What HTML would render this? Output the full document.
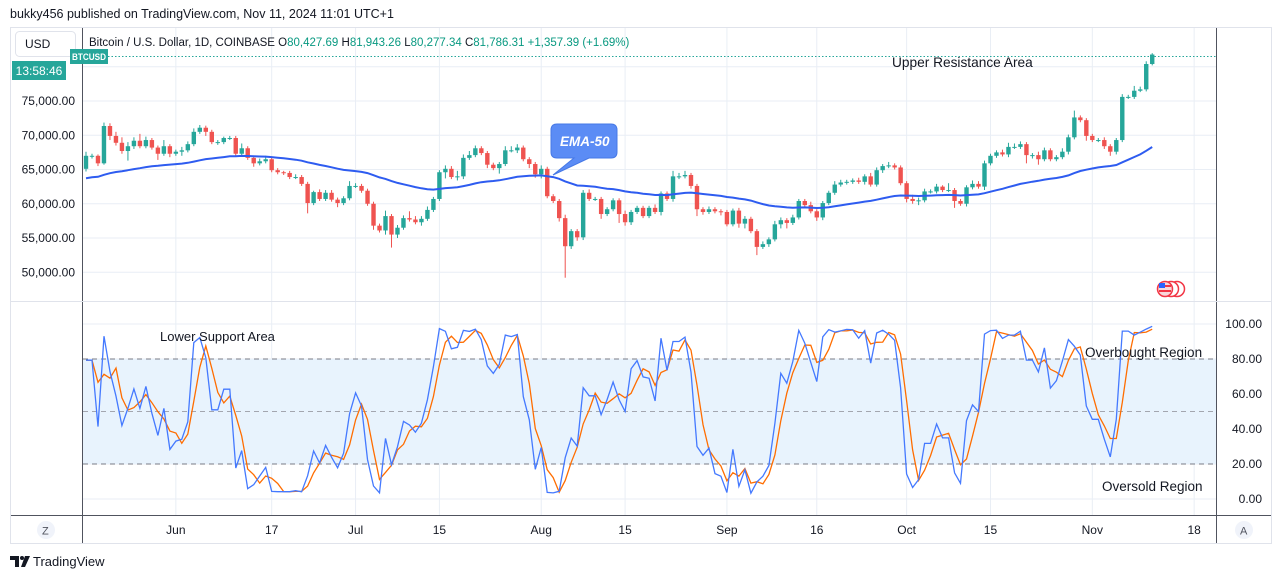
<!DOCTYPE html>
<html><head><meta charset="utf-8">
<style>
html,body{margin:0;padding:0;background:#fff;width:1281px;height:579px;overflow:hidden;font-family:"Liberation Sans",sans-serif;}
#wrap{position:relative;width:1281px;height:579px;}
svg{position:absolute;left:0;top:0;}
</style></head>
<body>
<div id="wrap">
<svg id="chart" width="1281" height="579" viewBox="0 0 1281 579">
  <text x="10" y="18" font-size="12.5" fill="#131722">bukky456 published on TradingView.com, Nov 11, 2024 11:01 UTC+1</text>
  <rect x="10.5" y="27.5" width="1261" height="516" fill="none" stroke="#e0e3eb"/>
  <g id="grid"></g>
  <rect x="82" y="359" width="1135" height="105" fill="#e8f3fd"/>
  <g id="bands"></g>
  <g id="candles"></g>
  <path id="ema" fill="none" stroke="#2e5cf0" stroke-width="2"/>
  <path id="stochD" fill="none" stroke="#ff6d00" stroke-width="1.3"/>
  <path id="stochK" fill="none" stroke="#4479ff" stroke-width="1.3"/>
  <line x1="108" y1="56.5" x2="1216" y2="56.5" stroke="#26a69a" stroke-dasharray="1.5,2"/>
  <line x1="82.5" y1="28" x2="82.5" y2="543" stroke="#50535e"/>
  <line x1="1216.5" y1="28" x2="1216.5" y2="543" stroke="#50535e"/>
  <line x1="11" y1="301.5" x2="1271" y2="301.5" stroke="#e0e3eb"/>
  <line x1="11" y1="515.5" x2="1271" y2="515.5" stroke="#50535e"/>
  <g id="ylabels" font-size="12" fill="#131722"></g>
  <g id="slabels" font-size="12" fill="#131722"></g>
  <g id="xlabels" font-size="12" fill="#131722"></g>
  <rect x="15.5" y="31.5" width="60" height="25" rx="4" fill="#fff" stroke="#e0e3eb"/>
  <text x="25" y="48" font-size="12" fill="#131722">USD</text>
  <rect x="12" y="61" width="54" height="19" fill="#26a69a"/>
  <text x="39" y="75" font-size="12" fill="#fff" text-anchor="middle">13:58:46</text>
  <rect x="70" y="49" width="38" height="15" fill="#26a69a"/>
  <text x="89" y="60" font-size="9.5" font-weight="bold" fill="#fff" text-anchor="middle" textLength="34" lengthAdjust="spacingAndGlyphs">BTCUSD</text>
  <text x="89" y="46" font-size="11.5" fill="#131722">Bitcoin / U.S. Dollar, 1D, COINBASE  <tspan fill="#131722">O</tspan><tspan fill="#089981">80,427.69</tspan> <tspan fill="#131722">H</tspan><tspan fill="#089981">81,943.26</tspan> <tspan fill="#131722">L</tspan><tspan fill="#089981">80,277.34</tspan> <tspan fill="#131722">C</tspan><tspan fill="#089981">81,786.31</tspan> <tspan fill="#089981">+1,357.39 (+1.69%)</tspan></text>
  <text x="892" y="67" font-size="13.7" fill="#131722">Upper Resistance Area</text>
  <text x="160" y="341" font-size="13" fill="#131722">Lower Support Area</text>
  <text x="1085" y="357" font-size="13.5" fill="#131722">Overbought Region</text>
  <text x="1102" y="491" font-size="13.5" fill="#131722">Oversold Region</text>
  <g>
    <path d="M557,124 H611 Q617,124 617,130 V152 Q617,158 611,158 H589 L553,175 L574,158 H557 Q551,158 551,152 V130 Q551,124 557,124 Z" fill="#5b8cf5" stroke="#4678e6"/>
    <text x="560" y="146" font-size="13.5" font-style="italic" font-weight="bold" fill="#fff">EMA-50</text>
  </g>
  <g>
    <circle cx="1177" cy="289" r="7.5" fill="#fff" stroke="#f23645" stroke-width="1.5"/>
    <circle cx="1171" cy="289" r="7.5" fill="#fff" stroke="#f23645" stroke-width="1.5"/>
    <circle cx="1165" cy="289" r="7.5" fill="#f8d7da" stroke="#f23645" stroke-width="1.5"/>
    <rect x="1159" y="285" width="12" height="2" fill="#f23645"/><rect x="1159" y="290" width="12" height="2" fill="#f23645"/>
    <rect x="1159" y="283" width="6" height="5" fill="#2962ff"/>
  </g>
  <circle cx="46" cy="530" r="9" fill="#f0f3fa"/>
  <text x="42" y="534.5" font-size="11" fill="#50535e">Z</text>
  <circle cx="1244" cy="530" r="9" fill="#f0f3fa"/>
  <text x="1240" y="534.5" font-size="11" fill="#50535e">A</text>
  <g>
    <path d="M10,556 H19 V567 H15 V560 H10 Z" fill="#131722"/>
    <circle cx="22" cy="558" r="2" fill="#131722"/>
    <path d="M25,556 H30 L25,567 H21 Z" fill="#131722"/>
    <text x="33" y="566" font-size="13" fill="#131722">TradingView</text>
  </g>
</svg>
</div>
<script>
// ---- data ----
const firstOpen = 65.1;
const closes = [67.0,67.0,65.9,71.35,69.9,68.9,67.7,68.4,69.2,68.4,69.3,68.2,67.3,68.4,67.3,67.6,67.8,68.7,70.5,71.1,
70.5,69.0,69.0,69.6,69.6,67.3,68.1,66.7,65.9,66.2,66.5,64.9,64.6,64.5,63.9,63.9,62.9,60.1,61.7,60.7,
61.6,60.6,60.1,60.8,62.6,62.6,61.9,60.0,56.8,56.1,58.2,55.5,56.5,57.9,57.7,57.3,57.8,59.1,60.7,64.6,
65.1,63.9,64.0,66.7,67.1,68.1,67.4,65.7,65.2,65.8,67.8,67.8,68.2,66.5,65.8,64.3,65.1,61.1,60.4,57.9,
53.8,56.0,55.1,61.6,60.7,60.7,58.5,59.2,60.5,58.5,57.3,58.8,59.4,58.2,59.4,58.8,61.5,60.7,64.0,64.0,
64.2,62.6,59.2,58.8,59.2,58.9,58.8,57.0,59.0,57.1,57.8,56.0,53.7,54.1,54.8,57.0,57.6,57.2,58.0,60.4,
59.8,58.9,58.0,60.1,61.6,62.8,63.1,63.2,63.4,63.2,64.0,62.8,64.9,65.5,65.6,65.3,63.0,60.7,60.4,60.5,
61.8,61.8,62.5,62.0,62.0,60.4,60.0,62.4,62.9,62.5,65.9,67.0,67.5,67.2,68.3,68.3,68.7,67.1,67.1,66.5,
67.8,66.5,66.8,67.6,69.7,72.6,72.2,69.9,69.3,69.3,68.4,67.6,69.3,75.6,75.6,76.5,76.7,80.4,81.786];
const wickUp = [0.6,0.3,0.2,0.5,0.4,0.6,0.8,0.6,0.5,1.0,0.5,0.3,0.3,0.9,0.3,0.3,0.5,0.4,0.5,0.4,
0.3,0.3,0.3,0.2,0.3,0.3,0.7,0.3,0.2,0.4,0.5,0.3,0.3,0.2,0.3,0.4,0.3,0.3,0.2,0.4,0.4,0.4,0.3,0.3,0.7,0.4,0.3,0.3,0.3,0.3,
0.8,0.3,0.4,0.4,1.0,0.5,0.4,0.5,0.3,0.3,0.5,0.4,0.8,0.5,0.6,0.4,0.3,0.3,0.3,0.3,0.6,0.6,0.5,0.3,0.3,0.3,0.5,0.3,0.3,0.3,
0.5,0.3,0.3,0.4,0.5,0.3,0.3,0.3,0.3,0.3,0.5,0.3,0.3,0.3,0.3,0.5,0.3,0.3,0.8,0.5,0.6,0.3,0.3,0.3,0.4,0.3,0.3,0.3,0.3,0.4,
0.4,0.3,0.3,0.4,0.3,0.5,0.4,0.3,0.4,0.3,0.3,0.5,0.3,0.3,0.3,0.5,0.4,0.3,0.3,0.4,0.3,0.5,0.4,0.3,0.5,0.3,0.3,0.3,0.6,0.4,
0.4,0.3,0.4,0.2,1.0,0.3,0.3,0.3,0.5,0.4,0.4,0.3,0.3,0.4,0.6,0.5,0.4,0.3,0.3,0.5,0.4,0.3,0.3,0.5,0.4,1.0,0.3,0.3,0.3,0.3,
0.4,0.3,0.3,0.4,0.3,0.7,0.4,0.4,0.2];
const wickDn = [0.4,0.4,0.4,0.2,0.6,0.4,0.4,1.4,0.4,0.3,0.3,0.3,0.9,0.3,0.5,0.3,0.6,0.3,0.3,0.3,
0.6,0.3,0.4,0.3,0.3,0.3,0.3,0.3,0.5,0.3,0.3,0.3,0.3,0.3,0.3,0.3,0.3,1.5,0.3,0.3,0.3,0.3,0.6,0.3,0.3,0.3,0.3,0.3,0.6,0.3,
0.6,1.9,0.5,0.3,0.3,0.3,0.5,0.3,0.3,0.3,0.9,0.3,0.5,0.4,0.3,0.3,0.3,0.5,0.3,0.8,0.3,0.3,0.4,0.3,0.6,0.5,0.6,0.3,0.3,0.5,
4.6,0.4,0.5,0.4,0.3,0.3,0.7,0.3,0.3,1.3,0.5,0.4,0.3,0.3,0.3,0.3,0.5,0.3,0.4,0.4,0.3,0.4,1.0,0.4,0.3,0.3,0.5,0.3,0.3,0.6,
0.7,0.3,1.2,0.3,0.4,0.3,0.6,0.8,0.3,0.3,0.4,0.3,0.5,0.4,0.3,0.3,0.3,0.3,0.3,0.3,0.4,0.3,0.3,0.4,0.3,0.3,0.3,0.5,0.4,0.6,
0.3,0.3,0.3,0.3,0.3,1.0,0.3,0.4,0.3,0.3,0.5,0.3,0.3,0.3,0.4,0.3,0.3,1.2,0.5,0.8,0.3,0.3,0.3,0.3,0.4,0.3,0.3,0.7,0.3,0.3,
0.4,0.6,0.4,0.3,0.3,0.3,0.2,0.3,0.2];
const emaSeed = 63.6;
const priceTicks = [50000,55000,60000,65000,70000,75000];
const priceGrid = [50,55,60,65,70,75,80];
const stochTicks = [0,20,40,60,80,100];
const stochLevels = [20,50,80];
const timeTickDays = [15,31,45,59,76,90,107,122,137,151,168,185];
const timeTickLabels = ["Jun","17","Jul","15","Aug","15","Sep","16","Oct","15","Nov","18"];
const stochLen = 14;
const dLen = 3;

// ---- scales ----
const NS='http://www.w3.org/2000/svg';
function xDay(d){return 86 + d*5.99;}
function yPrice(p){return 101 - (p-75)*6.85;}
function yStoch(v){return 499 - v*1.75;}
function mk(tag,attrs,parent){const e=document.createElementNS(NS,tag);for(const k in attrs)e.setAttribute(k,attrs[k]);parent.appendChild(e);return e;}

const grid=document.getElementById('grid');
priceGrid.forEach(p=>{
  const l=mk('line',{x1:83,x2:1216,y1:yPrice(p),y2:yPrice(p),stroke:'#e9eef5'},grid);
  
  
});
stochTicks.forEach(v=>{
  const l=mk('line',{x1:83,x2:1216,y1:yStoch(v),y2:yStoch(v),stroke:'#e9eef5'},grid);
  
  
});
timeTickDays.forEach(d=>{
  const l=mk('line',{x1:xDay(d),x2:xDay(d),y1:28,y2:515,stroke:'#e9eef5'},grid);
  
  
});
const bands=document.getElementById('bands');
stochLevels.forEach(v=>{
  const l=mk('line',{x1:83,x2:1216,y1:yStoch(v),y2:yStoch(v),stroke:v===50?'#a3a6af':'#787b86','stroke-dasharray':'5,4'},bands);
  
  
});

// candles
const cg=document.getElementById('candles');
const opens=[],highs=[],lows=[];
closes.forEach((c,i)=>{
  const o=i===0?firstOpen:closes[i-1];
  const h=Math.max(o,c)+wickUp[i], lo=Math.min(o,c)-wickDn[i];
  opens.push(o);highs.push(h);lows.push(lo);
  const col=c>=o?'#26a69a':'#ef5350';
  const x=xDay(i);
  const g=mk('g',{},cg);
  
  
  mk('line',{x1:x,x2:x,y1:yPrice(h),y2:yPrice(lo),stroke:col,'stroke-width':1},g);
  const yt=yPrice(Math.max(o,c)), yb=yPrice(Math.min(o,c));
  mk('rect',{x:x-2.2,y:yt,width:4.4,height:Math.max(1,yb-yt),fill:col},g);
});

// EMA-50
const alpha=2/51;let e=emaSeed;let dE='';
closes.forEach((c,i)=>{e=e+alpha*(c-e);dE+=(i?'L':'M')+xDay(i).toFixed(1)+','+yPrice(e).toFixed(1);});
document.getElementById('ema').setAttribute('d',dE);

// Stochastic
const K=[];
closes.forEach((c,i)=>{
  const s=Math.max(0,i-stochLen+1);
  let hh=-1e9,ll=1e9;
  for(let j=s;j<=i;j++){hh=Math.max(hh,highs[j]);ll=Math.min(ll,lows[j]);}
  K.push(hh>ll?(c-ll)/(hh-ll)*100:50);
});
const D=K.map((v,i)=>{const s=Math.max(0,i-dLen+1);let t=0;for(let j=s;j<=i;j++)t+=K[j];return t/(i-s+1);});
document.getElementById('stochK').setAttribute('d',K.map((v,i)=>(i?'L':'M')+xDay(i).toFixed(1)+','+yStoch(v).toFixed(1)).join(''));
document.getElementById('stochD').setAttribute('d',D.map((v,i)=>(i?'L':'M')+xDay(i).toFixed(1)+','+yStoch(v).toFixed(1)).join(''));

// labels
const yl=document.getElementById('ylabels');
priceTicks.forEach(p=>{
  const t=mk('text',{x:75,y:yPrice(p/1000)+4,'text-anchor':'end'},yl);
  t.textContent=p.toLocaleString('en-US',{minimumFractionDigits:2});
  
  
});
const sl=document.getElementById('slabels');
stochTicks.forEach(v=>{
  const t=mk('text',{x:1262,y:yStoch(v)+4,'text-anchor':'end'},sl);
  t.textContent=v.toFixed(2);
  
  
});
const xl=document.getElementById('xlabels');
timeTickDays.forEach((d,i)=>{
  const t=mk('text',{x:xDay(d),y:534,'text-anchor':'middle'},xl);
  t.textContent=timeTickLabels[i];
  
  
});
</script>
</body></html>
